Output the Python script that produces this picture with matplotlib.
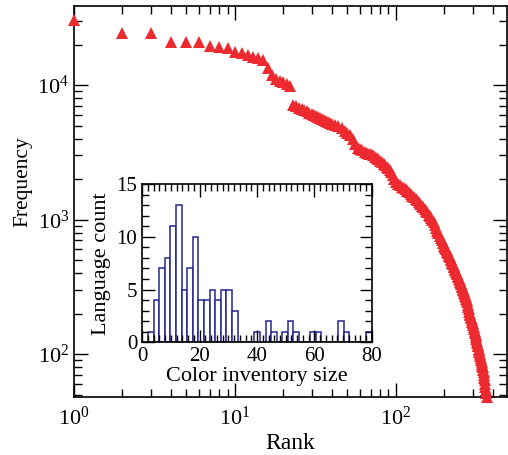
import numpy as np
import matplotlib
matplotlib.use("Agg")
import matplotlib.pyplot as plt
from matplotlib.ticker import MultipleLocator, LogLocator, NullFormatter

plt.rcParams['font.family'] = 'Liberation Serif'
plt.rcParams['mathtext.fontset'] = 'custom'
plt.rcParams['mathtext.rm'] = 'Liberation Serif'

# rank-frequency of color terms
rank = np.concatenate([np.arange(1, 41), np.arange(42, 101, 2),
                       np.arange(103, 200, 3), np.arange(201, 368, 2)])
freq = [30400, 24400, 24400, 20900, 20900, 20900, 19500, 19200, 18800, 17600, 17300,
        16700, 16100, 15900, 15300, 13400, 11900, 11100, 10700, 10500, 10200, 9830,
        # 23-40
        7100, 6950, 6800, 6650, 6500, 6380, 6250, 6100, 5950, 5850, 5750, 5650, 5560,
        5470, 5390, 5300, 5220, 5150,
        # 42-100
        5020, 4920, 4780, 4560, 4380, 4250, 3980, 3620, 3420, 3350, 3290, 3200, 3120,
        3080, 3050, 3010, 2940, 2870, 2800, 2730, 2660, 2600, 2530, 2460, 2400, 2330,
        2240, 2130, 2010, 1900,
        # 103-199
        1840, 1800, 1760, 1720, 1680, 1640, 1590, 1540, 1500, 1460, 1420, 1390, 1350,
        1310, 1270, 1230, 1190, 1160, 1130, 1090, 1060, 1030, 1000, 960, 910, 865, 825,
        790, 760, 730, 700, 670, 640,
        # 201-367
        630, 615, 602, 590, 576, 562, 549, 536, 523, 511, 499, 487, 475, 464, 453, 442,
        431, 421, 410, 400,
        391, 381, 372, 363, 355, 346, 338, 330, 322, 314, 307, 300, 293, 286, 279, 272,
        265, 259, 253,
        243, 233, 224, 215, 206, 199,
        194, 189, 184, 179, 174, 170,
        164, 158, 153, 148, 143, 138, 133, 129,
        125, 121, 117, 114, 110, 107, 103,
        100, 97, 94, 91, 88, 85, 82, 80,
        76, 73, 70, 67, 64,
        60, 57, 54, 51, 48]
assert len(rank) == len(freq)

# inventory size histogram (40 bins between 2 and 80)
bin_lo, bin_hi, n_bins = 2, 80, 40
lang_count = [1, 4, 7, 8, 11, 13, 5, 7, 10, 4, 4, 5, 4, 5, 5, 3,
              0, 0, 0, 1, 0, 2, 1, 0, 1, 2, 1, 0, 0, 1,
              1, 0, 0, 0, 2, 1, 0, 0, 0, 1]

red = '#ec2a2f'
navy = '#26268f'

fig = plt.figure(figsize=(5.08, 4.55), dpi=100)
ax = fig.add_axes([0.1457, 0.1275, 0.852, 0.859])
ax.plot(rank, freq, linestyle='none', marker='^', markersize=8.6,
        color=red, markeredgewidth=0, clip_on=False, zorder=3)
ax.set_xscale('log')
ax.set_yscale('log')
ax.set_xlim(1, 490)
ax.set_ylim(48, 38600)
ax.set_xlabel('Rank', fontsize=17, labelpad=2)
ax.set_ylabel('Frequency', fontsize=15.5)
ax.yaxis.set_label_coords(-0.097, 0.55)
ax.xaxis.set_minor_locator(LogLocator(subs=np.arange(2, 10)))
ax.yaxis.set_minor_locator(LogLocator(subs=np.arange(2, 10)))
ax.xaxis.set_minor_formatter(NullFormatter())
ax.yaxis.set_minor_formatter(NullFormatter())
ax.tick_params(which='both', direction='in', top=True, right=True, labelsize=16)
ax.tick_params(which='major', length=10, width=1)
ax.tick_params(which='minor', length=6, width=1)
ax.tick_params(axis='x', pad=7)
for s in ax.spines.values():
    s.set_linewidth(1.2)

# inset
ins = fig.add_axes([0.280, 0.248, 0.452, 0.347])
edges = np.linspace(bin_lo, bin_hi, n_bins + 1)
ins.bar(edges[:-1], lang_count, width=np.diff(edges), align='edge',
        facecolor='white', edgecolor=navy, linewidth=1.1)
ins.set_xlim(0, 80)
ins.set_ylim(0, 15)
ins.xaxis.set_major_locator(MultipleLocator(20))
ins.xaxis.set_minor_locator(MultipleLocator(2))
ins.yaxis.set_major_locator(MultipleLocator(5))
ins.yaxis.set_minor_locator(MultipleLocator(1))
ins.tick_params(which='both', direction='in', top=True, right=True, labelsize=15)
ins.tick_params(which='major', length=9, width=1)
ins.tick_params(which='minor', length=5, width=1)
ins.set_xlabel('Color inventory size', fontsize=16, labelpad=1)
ins.set_ylabel('Language count', fontsize=16, labelpad=4)
for s in ins.spines.values():
    s.set_linewidth(1.2)

fig.savefig('out.png', dpi=100)
